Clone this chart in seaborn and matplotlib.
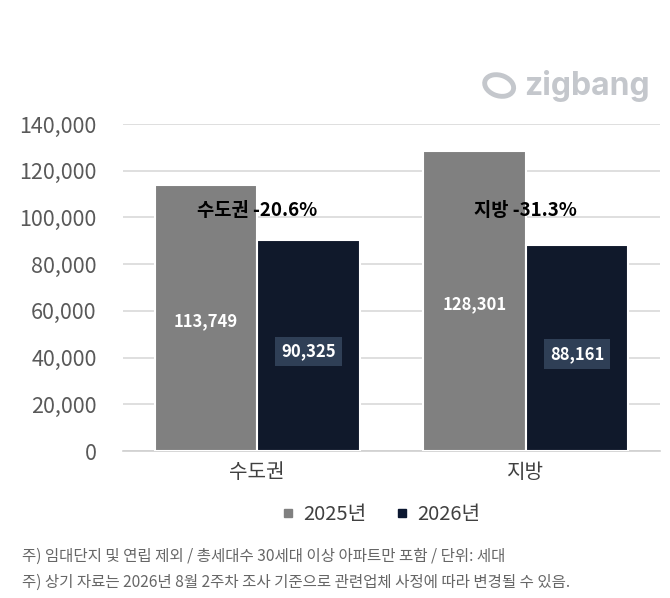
import seaborn as sns
import pandas as pd
import matplotlib.pyplot as plt
from matplotlib.lines import Line2D
from matplotlib.patches import Ellipse
from matplotlib.ticker import FuncFormatter

# data
regions = ['수도권', '지방']
years = ['2025년', '2026년']
supply_2025 = [113749, 128301]
supply_2026 = [90325, 88161]
change_labels = ['수도권 -20.6%', '지방 -31.3%']
notes = ['주) 임대단지 및 연립 제외 / 총세대수 30세대 이상 아파트만 포함 / 단위: 세대',
         '주) 상기 자료는 2026년 8월 2주차 조사 기준으로 관련업체 사정에 따라 변경될 수 있음.']

df = pd.DataFrame({
    'region': regions * 2,
    'year': [years[0]] * 2 + [years[1]] * 2,
    'count': supply_2025 + supply_2026,
})

gray = '#808080'
navy = '#0b1730'

sns.set_style('white')
plt.rcParams['font.family'] = ['Noto Sans CJK KR', 'DejaVu Sans']

fig = plt.figure(figsize=(6.7, 5.98), dpi=100)
ax = fig.add_axes([0.1836, 0.2458, 0.8014, 0.5468])

sns.barplot(data=df, x='region', y='count', hue='year', palette=[gray, navy],
            width=0.765, edgecolor='white', linewidth=1.5, ax=ax, legend=False, zorder=3)

ax.set_ylim(0, 140000)
ax.set_xlim(-0.5, 1.5)
ax.set_yticks(range(0, 140001, 20000))
ax.yaxis.set_major_formatter(FuncFormatter(lambda v, p: f'{int(v):,}'))
ax.grid(axis='y', color='#d9d9d9', linewidth=1.2, zorder=0)
ax.set_axisbelow(True)
ax.set_xlabel('')
ax.set_ylabel('')
for s in ['top', 'right', 'left']:
    ax.spines[s].set_visible(False)
ax.spines['bottom'].set_color('#d0d0d0')
ax.spines['bottom'].set_linewidth(1.2)
ax.tick_params(axis='y', length=0, pad=19, labelsize=15.5, labelcolor='#595959')
ax.tick_params(axis='x', length=0, pad=8, labelsize=14.5, labelcolor='#404040')
ax.set_xticks([0.5], minor=True)
ax.tick_params(axis='x', which='minor', length=5, color='#d0d0d0', width=1.2)

# value labels inside bars
for i, bar in enumerate(ax.patches[:4]):
    h = bar.get_height()
    x = bar.get_x() + bar.get_width() / 2
    if i < 2:
        ax.text(x, h / 2 - 1500, f'{int(h):,}', ha='center', va='center', color='white',
                fontsize=12, fontweight='bold', zorder=5)
    else:
        ax.text(x, h / 2 - 2500, f'{int(h):,}', ha='center', va='center', color='white',
                fontsize=12, fontweight='bold', zorder=5,
                bbox=dict(boxstyle='square,pad=0.35', facecolor='#2f3f56', edgecolor='none'))

# change labels
for i, lab in enumerate(change_labels):
    ax.text(i, 103000, lab, ha='center', va='center', color='black',
            fontsize=13.5, fontweight='bold', zorder=6)

# legend
handles = [Line2D([], [], marker='s', linestyle='', markersize=6, color=c) for c in [gray, navy]]
fig.legend(handles, years, loc='center', bbox_to_anchor=(0.568, 0.139), ncol=2,
           frameon=False, fontsize=14.5, handlelength=0.7, handletextpad=0.4,
           columnspacing=1.4, labelcolor='#404040')

# footnotes
fig.text(0.033, 0.070, notes[0], fontsize=11.2, color='#666666', va='center')
fig.text(0.033, 0.027, notes[1], fontsize=11.2, color='#666666', va='center')

# logo
fig.text(0.97, 0.856, 'zigbang', ha='right', va='center', fontsize=23,
         fontweight='bold', color='#c4c7cc', family=['Inter', 'DejaVu Sans'])
fig.patches.append(Ellipse((0.745, 0.857), 0.045, 0.034, angle=-25, fill=False,
                           edgecolor='#c4c7cc', linewidth=3.5, transform=fig.transFigure))

fig.savefig('out.png', dpi=100)
